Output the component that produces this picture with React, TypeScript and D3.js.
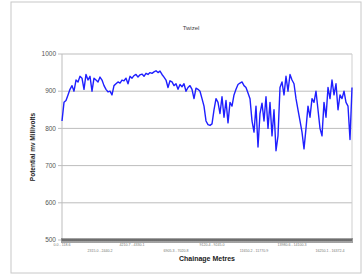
import React from "react";
import * as d3 from "d3";

// potential readings (mV), one per chainage step
const potential = [
  820, 870, 875, 890, 905, 915, 900, 930, 925, 940, 935, 905, 945, 930, 940, 900,
  935, 930, 925, 938, 930, 915, 905, 898, 900, 890, 915, 920, 925, 922, 930, 928,
  935, 920, 940, 935, 942, 945, 938, 944, 946, 940, 948, 945, 950, 948, 952, 955,
  950, 954, 945, 938, 930, 910, 928, 925, 915, 920, 905, 918, 912, 920, 900, 910,
  915, 905, 880, 908, 905, 900, 880, 860, 820, 810, 808, 812, 850, 880, 870, 840,
  885, 830, 875, 815, 870, 860, 890, 905, 918, 922, 925, 915, 910, 895, 880, 820,
  790, 860, 750, 840, 868, 820, 885, 800, 870, 780, 850, 740, 780, 910, 925, 890,
  940, 900, 945, 930, 920, 880, 850, 820, 790, 745, 800, 860, 830, 880, 870, 900,
  850, 800, 780, 870, 830, 910, 880, 930, 890, 920, 850, 890, 880, 900, 870, 860,
  770, 910,
];

const yTicks = [500, 600, 700, 800, 900, 1000];

const labelIndex = [0, 19, 35, 57, 75, 96, 115, 134];
const xLabels = [
  "0.0 - 118.6",
  "2315.0 - 2440.2",
  "4210.7 - 4330.1",
  "6905.3 - 7020.8",
  "9120.4 - 9245.0",
  "11650.2 - 11770.9",
  "13980.6 - 14100.3",
  "16250.1 - 16372.4",
];

const W = 362,
  H = 278;
const margin = { top: 54, right: 10, bottom: 38, left: 62 };

export default function App() {
  const x = d3
    .scaleLinear()
    .domain([0, potential.length - 1])
    .range([margin.left, W - margin.right]);
  const y = d3
    .scaleLinear()
    .domain([500, 1000])
    .range([H - margin.bottom, margin.top]);

  const line = d3
    .line<number>()
    .x((d, i) => x(i))
    .y((d) => y(d))(potential);

  const font = "Arial, 'Liberation Sans', sans-serif";

  return (
    <svg
      width={W}
      height={H}
      style={{ position: "fixed", left: 0, top: 0, background: "#fff" }}
      fontFamily={font}
    >
      <rect x={11} y={2} width={350} height={271} fill="#fff" stroke="#c8c8c8" />
      <text x={191} y={30} fontSize={6} textAnchor="middle" fill="#444">
        Twizel
      </text>

      {yTicks.map((t) => (
        <g key={t}>
          <line
            x1={margin.left - 4}
            x2={W - margin.right}
            y1={y(t)}
            y2={y(t)}
            stroke="#bdbdbd"
            strokeWidth={1}
          />
          <text
            x={margin.left - 6}
            y={y(t) + 2.2}
            fontSize={6.5}
            textAnchor="end"
            fill="#555"
          >
            {t}
          </text>
        </g>
      ))}
      <line
        x1={margin.left}
        x2={margin.left}
        y1={margin.top}
        y2={H - margin.bottom}
        stroke="#bdbdbd"
      />
      <line
        x1={W - margin.right}
        x2={W - margin.right}
        y1={margin.top}
        y2={H - margin.bottom}
        stroke="#cfcfcf"
      />

      <path d={line ?? ""} fill="none" stroke="#1f1fff" strokeWidth={1.4} strokeLinejoin="round" />

      <line
        x1={margin.left}
        x2={W - margin.right}
        y1={y(500)}
        y2={y(500)}
        stroke="#555"
      />
      {potential.map((d, i) => (
        <line
          key={i}
          x1={x(i)}
          x2={x(i)}
          y1={y(500) - 2}
          y2={y(500) + 3}
          stroke="#444"
          strokeWidth={1}
        />
      ))}
      {labelIndex.map((idx, k) => (
        <text
          key={k}
          x={x(idx)}
          y={y(500) + (k % 2 === 0 ? 6 : 12)}
          fontSize={3.6}
          textAnchor="middle"
          fill="#777"
        >
          {xLabels[k]}
        </text>
      ))}

      <text
        x={207}
        y={261}
        fontSize={7}
        fontWeight="bold"
        textAnchor="middle"
        fill="#222"
      >
        Chainage Metres
      </text>
      <text
        transform={`translate(35,${(margin.top + H - margin.bottom) / 2}) rotate(-90)`}
        fontSize={6.5}
        fontWeight="bold"
        textAnchor="middle"
        fill="#222"
      >
        Potential mv Millivolts
      </text>
    </svg>
  );
}
